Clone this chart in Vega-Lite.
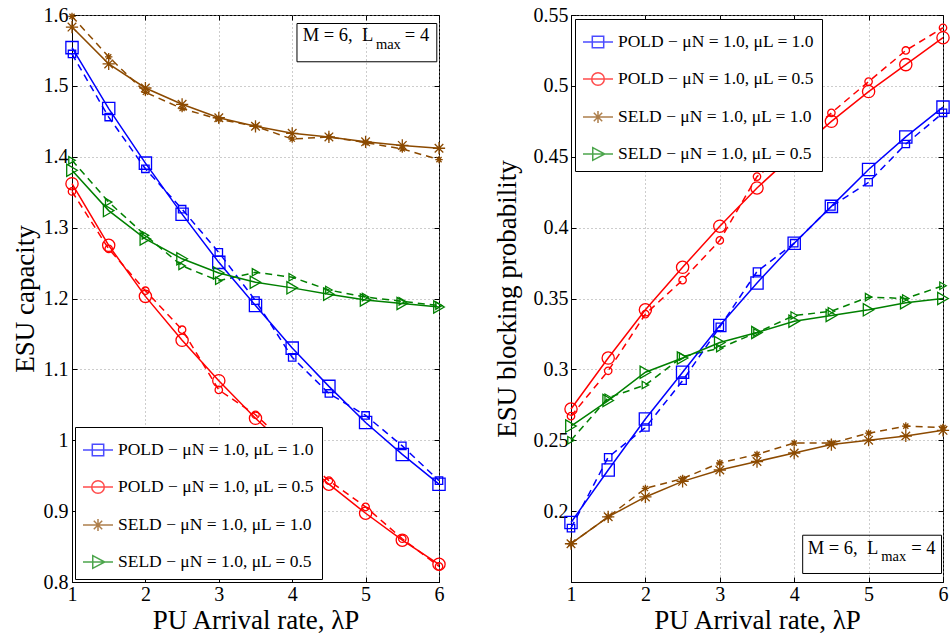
{
  "$schema": "https://vega.github.io/schema/vega-lite/v6.json",
  "padding": {"left": 10, "top": 4, "right": 0, "bottom": 0},
  "spacing": 132,
  "bounds": "flush",
  "datasets": {
    "cap": [
      {"lam":1,"series":"POL1","kind":"ana","v":1.554},{"lam":1.5,"series":"POL1","kind":"ana","v":1.468},{"lam":2,"series":"POL1","kind":"ana","v":1.391},{"lam":2.5,"series":"POL1","kind":"ana","v":1.319},{"lam":3,"series":"POL1","kind":"ana","v":1.251},{"lam":3.5,"series":"POL1","kind":"ana","v":1.190},{"lam":4,"series":"POL1","kind":"ana","v":1.130},{"lam":4.5,"series":"POL1","kind":"ana","v":1.076},{"lam":5,"series":"POL1","kind":"ana","v":1.025},{"lam":5.5,"series":"POL1","kind":"ana","v":0.980},{"lam":6,"series":"POL1","kind":"ana","v":0.938},
      {"lam":1,"series":"POL1","kind":"sim","v":1.545},{"lam":1.5,"series":"POL1","kind":"sim","v":1.456},{"lam":2,"series":"POL1","kind":"sim","v":1.383},{"lam":2.5,"series":"POL1","kind":"sim","v":1.326},{"lam":3,"series":"POL1","kind":"sim","v":1.265},{"lam":3.5,"series":"POL1","kind":"sim","v":1.197},{"lam":4,"series":"POL1","kind":"sim","v":1.117},{"lam":4.5,"series":"POL1","kind":"sim","v":1.066},{"lam":5,"series":"POL1","kind":"sim","v":1.035},{"lam":5.5,"series":"POL1","kind":"sim","v":0.992},{"lam":6,"series":"POL1","kind":"sim","v":0.943},
      {"lam":1,"series":"POL05","kind":"ana","v":1.362},{"lam":1.5,"series":"POL05","kind":"ana","v":1.275},{"lam":2,"series":"POL05","kind":"ana","v":1.203},{"lam":2.5,"series":"POL05","kind":"ana","v":1.141},{"lam":3,"series":"POL05","kind":"ana","v":1.084},{"lam":3.5,"series":"POL05","kind":"ana","v":1.031},{"lam":4,"series":"POL05","kind":"ana","v":0.983},{"lam":4.5,"series":"POL05","kind":"ana","v":0.938},{"lam":5,"series":"POL05","kind":"ana","v":0.897},{"lam":5.5,"series":"POL05","kind":"ana","v":0.859},{"lam":6,"series":"POL05","kind":"ana","v":0.825},
      {"lam":1,"series":"POL05","kind":"sim","v":1.351},{"lam":1.5,"series":"POL05","kind":"sim","v":1.270},{"lam":2,"series":"POL05","kind":"sim","v":1.211},{"lam":2.5,"series":"POL05","kind":"sim","v":1.156},{"lam":3,"series":"POL05","kind":"sim","v":1.071},{"lam":3.5,"series":"POL05","kind":"sim","v":1.036},{"lam":4,"series":"POL05","kind":"sim","v":0.988},{"lam":4.5,"series":"POL05","kind":"sim","v":0.943},{"lam":5,"series":"POL05","kind":"sim","v":0.906},{"lam":5.5,"series":"POL05","kind":"sim","v":0.861},{"lam":6,"series":"POL05","kind":"sim","v":0.822},
      {"lam":1,"series":"SEL1","kind":"ana","v":1.583},{"lam":1.5,"series":"SEL1","kind":"ana","v":1.531},{"lam":2,"series":"SEL1","kind":"ana","v":1.497},{"lam":2.5,"series":"SEL1","kind":"ana","v":1.474},{"lam":3,"series":"SEL1","kind":"ana","v":1.455},{"lam":3.5,"series":"SEL1","kind":"ana","v":1.443},{"lam":4,"series":"SEL1","kind":"ana","v":1.433},{"lam":4.5,"series":"SEL1","kind":"ana","v":1.428},{"lam":5,"series":"SEL1","kind":"ana","v":1.421},{"lam":5.5,"series":"SEL1","kind":"ana","v":1.416},{"lam":6,"series":"SEL1","kind":"ana","v":1.412},
      {"lam":1,"series":"SEL1","kind":"sim","v":1.598},{"lam":1.5,"series":"SEL1","kind":"sim","v":1.541},{"lam":2,"series":"SEL1","kind":"sim","v":1.491},{"lam":2.5,"series":"SEL1","kind":"sim","v":1.468},{"lam":3,"series":"SEL1","kind":"sim","v":1.453},{"lam":3.5,"series":"SEL1","kind":"sim","v":1.443},{"lam":4,"series":"SEL1","kind":"sim","v":1.425},{"lam":4.5,"series":"SEL1","kind":"sim","v":1.428},{"lam":5,"series":"SEL1","kind":"sim","v":1.420},{"lam":5.5,"series":"SEL1","kind":"sim","v":1.411},{"lam":6,"series":"SEL1","kind":"sim","v":1.396},
      {"lam":1,"series":"SEL05","kind":"ana","v":1.381},{"lam":1.5,"series":"SEL05","kind":"ana","v":1.324},{"lam":2,"series":"SEL05","kind":"ana","v":1.284},{"lam":2.5,"series":"SEL05","kind":"ana","v":1.256},{"lam":3,"series":"SEL05","kind":"ana","v":1.236},{"lam":3.5,"series":"SEL05","kind":"ana","v":1.223},{"lam":4,"series":"SEL05","kind":"ana","v":1.215},{"lam":4.5,"series":"SEL05","kind":"ana","v":1.206},{"lam":5,"series":"SEL05","kind":"ana","v":1.198},{"lam":5.5,"series":"SEL05","kind":"ana","v":1.193},{"lam":6,"series":"SEL05","kind":"ana","v":1.188},
      {"lam":1,"series":"SEL05","kind":"sim","v":1.395},{"lam":1.5,"series":"SEL05","kind":"sim","v":1.336},{"lam":2,"series":"SEL05","kind":"sim","v":1.289},{"lam":2.5,"series":"SEL05","kind":"sim","v":1.246},{"lam":3,"series":"SEL05","kind":"sim","v":1.225},{"lam":3.5,"series":"SEL05","kind":"sim","v":1.237},{"lam":4,"series":"SEL05","kind":"sim","v":1.230},{"lam":4.5,"series":"SEL05","kind":"sim","v":1.212},{"lam":5,"series":"SEL05","kind":"sim","v":1.202},{"lam":5.5,"series":"SEL05","kind":"sim","v":1.196},{"lam":6,"series":"SEL05","kind":"sim","v":1.190}
    ],
    "blk": [
      {"lam":1,"series":"POL1","kind":"ana","v":0.192},{"lam":1.5,"series":"POL1","kind":"ana","v":0.229},{"lam":2,"series":"POL1","kind":"ana","v":0.265},{"lam":2.5,"series":"POL1","kind":"ana","v":0.298},{"lam":3,"series":"POL1","kind":"ana","v":0.331},{"lam":3.5,"series":"POL1","kind":"ana","v":0.361},{"lam":4,"series":"POL1","kind":"ana","v":0.389},{"lam":4.5,"series":"POL1","kind":"ana","v":0.415},{"lam":5,"series":"POL1","kind":"ana","v":0.441},{"lam":5.5,"series":"POL1","kind":"ana","v":0.464},{"lam":6,"series":"POL1","kind":"ana","v":0.485},
      {"lam":1,"series":"POL1","kind":"sim","v":0.188},{"lam":1.5,"series":"POL1","kind":"sim","v":0.238},{"lam":2,"series":"POL1","kind":"sim","v":0.259},{"lam":2.5,"series":"POL1","kind":"sim","v":0.292},{"lam":3,"series":"POL1","kind":"sim","v":0.330},{"lam":3.5,"series":"POL1","kind":"sim","v":0.369},{"lam":4,"series":"POL1","kind":"sim","v":0.389},{"lam":4.5,"series":"POL1","kind":"sim","v":0.415},{"lam":5,"series":"POL1","kind":"sim","v":0.432},{"lam":5.5,"series":"POL1","kind":"sim","v":0.459},{"lam":6,"series":"POL1","kind":"sim","v":0.481},
      {"lam":1,"series":"POL05","kind":"ana","v":0.272},{"lam":1.5,"series":"POL05","kind":"ana","v":0.308},{"lam":2,"series":"POL05","kind":"ana","v":0.342},{"lam":2.5,"series":"POL05","kind":"ana","v":0.372},{"lam":3,"series":"POL05","kind":"ana","v":0.401},{"lam":3.5,"series":"POL05","kind":"ana","v":0.428},{"lam":4,"series":"POL05","kind":"ana","v":0.452},{"lam":4.5,"series":"POL05","kind":"ana","v":0.475},{"lam":5,"series":"POL05","kind":"ana","v":0.496},{"lam":5.5,"series":"POL05","kind":"ana","v":0.515},{"lam":6,"series":"POL05","kind":"ana","v":0.534},
      {"lam":1,"series":"POL05","kind":"sim","v":0.267},{"lam":1.5,"series":"POL05","kind":"sim","v":0.299},{"lam":2,"series":"POL05","kind":"sim","v":0.339},{"lam":2.5,"series":"POL05","kind":"sim","v":0.363},{"lam":3,"series":"POL05","kind":"sim","v":0.391},{"lam":3.5,"series":"POL05","kind":"sim","v":0.436},{"lam":4,"series":"POL05","kind":"sim","v":0.457},{"lam":4.5,"series":"POL05","kind":"sim","v":0.481},{"lam":5,"series":"POL05","kind":"sim","v":0.503},{"lam":5.5,"series":"POL05","kind":"sim","v":0.525},{"lam":6,"series":"POL05","kind":"sim","v":0.541},
      {"lam":1,"series":"SEL1","kind":"ana","v":0.177},{"lam":1.5,"series":"SEL1","kind":"ana","v":0.196},{"lam":2,"series":"SEL1","kind":"ana","v":0.210},{"lam":2.5,"series":"SEL1","kind":"ana","v":0.221},{"lam":3,"series":"SEL1","kind":"ana","v":0.229},{"lam":3.5,"series":"SEL1","kind":"ana","v":0.235},{"lam":4,"series":"SEL1","kind":"ana","v":0.241},{"lam":4.5,"series":"SEL1","kind":"ana","v":0.247},{"lam":5,"series":"SEL1","kind":"ana","v":0.250},{"lam":5.5,"series":"SEL1","kind":"ana","v":0.253},{"lam":6,"series":"SEL1","kind":"ana","v":0.257},
      {"lam":1,"series":"SEL1","kind":"sim","v":0.177},{"lam":1.5,"series":"SEL1","kind":"sim","v":0.196},{"lam":2,"series":"SEL1","kind":"sim","v":0.216},{"lam":2.5,"series":"SEL1","kind":"sim","v":0.223},{"lam":3,"series":"SEL1","kind":"sim","v":0.234},{"lam":3.5,"series":"SEL1","kind":"sim","v":0.240},{"lam":4,"series":"SEL1","kind":"sim","v":0.248},{"lam":4.5,"series":"SEL1","kind":"sim","v":0.248},{"lam":5,"series":"SEL1","kind":"sim","v":0.255},{"lam":5.5,"series":"SEL1","kind":"sim","v":0.260},{"lam":6,"series":"SEL1","kind":"sim","v":0.259},
      {"lam":1,"series":"SEL05","kind":"ana","v":0.260},{"lam":1.5,"series":"SEL05","kind":"ana","v":0.278},{"lam":2,"series":"SEL05","kind":"ana","v":0.298},{"lam":2.5,"series":"SEL05","kind":"ana","v":0.308},{"lam":3,"series":"SEL05","kind":"ana","v":0.319},{"lam":3.5,"series":"SEL05","kind":"ana","v":0.326},{"lam":4,"series":"SEL05","kind":"ana","v":0.334},{"lam":4.5,"series":"SEL05","kind":"ana","v":0.338},{"lam":5,"series":"SEL05","kind":"ana","v":0.342},{"lam":5.5,"series":"SEL05","kind":"ana","v":0.347},{"lam":6,"series":"SEL05","kind":"ana","v":0.350},
      {"lam":1,"series":"SEL05","kind":"sim","v":0.250},{"lam":1.5,"series":"SEL05","kind":"sim","v":0.280},{"lam":2,"series":"SEL05","kind":"sim","v":0.289},{"lam":2.5,"series":"SEL05","kind":"sim","v":0.309},{"lam":3,"series":"SEL05","kind":"sim","v":0.315},{"lam":3.5,"series":"SEL05","kind":"sim","v":0.326},{"lam":4,"series":"SEL05","kind":"sim","v":0.338},{"lam":4.5,"series":"SEL05","kind":"sim","v":0.341},{"lam":5,"series":"SEL05","kind":"sim","v":0.351},{"lam":5.5,"series":"SEL05","kind":"sim","v":0.350},{"lam":6,"series":"SEL05","kind":"sim","v":0.359}
    ]
  },
  "hconcat": [
    {
      "width": 367,
      "height": 567,
      "data": {"name": "cap"},
      "resolve": {"scale": {"color": "independent", "shape": "independent"}, "axis": {"x": "independent", "y": "independent"}},
      "layer": [
        {
          "transform": [{"filter": "datum.kind == 'sim'"}],
          "mark": {"type": "line", "strokeWidth": 1.5, "strokeDash": [7, 5]},
          "encoding": {
            "x": {"field": "lam", "type": "quantitative", "scale": {"domain": [1, 6], "nice": false, "zero": false},
                  "axis": {"orient": "bottom", "values": [1, 2, 3, 4, 5, 6], "title": "PU Arrival rate, λP", "grid": true, "tickSize": -5, "labelPadding": 7, "titlePadding": 3}},
            "y": {"field": "v", "type": "quantitative", "scale": {"domain": [0.8, 1.6], "nice": false, "zero": false},
                  "axis": {"orient": "left", "values": [0.8, 0.9, 1, 1.1, 1.2, 1.3, 1.4, 1.5, 1.6], "format": "~g", "title": "ESU capacity", "grid": true, "tickSize": -5, "labelPadding": 9, "titlePadding": 4}},
            "color": {"field": "series", "type": "nominal", "scale": {"domain": ["POL1", "POL05", "SEL1", "SEL05"], "range": ["#0000ff", "#ff0000", "#8c4a00", "#008000"]}, "legend": null}
          }
        },
        {
          "transform": [{"filter": "datum.kind == 'ana'"}],
          "mark": {"type": "line", "strokeWidth": 1.5},
          "encoding": {
            "x": {"field": "lam", "type": "quantitative", "axis": {"orient": "top", "values": [1, 2, 3, 4, 5, 6], "labels": false, "title": null, "grid": false, "domain": false, "tickSize": -5}},
            "y": {"field": "v", "type": "quantitative", "axis": {"orient": "right", "values": [0.8, 0.9, 1, 1.1, 1.2, 1.3, 1.4, 1.5, 1.6], "labels": false, "title": null, "grid": false, "domain": false, "tickSize": -5}},
            "color": {"field": "series", "type": "nominal", "scale": {"domain": ["POL1", "POL05", "SEL1", "SEL05"], "range": ["#0000ff", "#ff0000", "#8c4a00", "#008000"]}, "legend": null}
          }
        },
        {
          "transform": [{"filter": "datum.kind == 'sim'"}],
          "mark": {"type": "point", "filled": false, "strokeWidth": 1.3, "size": 55, "opacity": 1},
          "encoding": {
            "x": {"field": "lam", "type": "quantitative", "axis": null},
            "y": {"field": "v", "type": "quantitative", "axis": null},
            "color": {"field": "series", "type": "nominal", "scale": {"domain": ["POL1", "POL05", "SEL1", "SEL05"], "range": ["#0000ff", "#ff0000", "#8c4a00", "#008000"]}, "legend": null},
            "shape": {"field": "series", "type": "nominal", "scale": {"domain": ["POL1", "POL05", "SEL1", "SEL05"], "range": ["square", "circle", "M0,-1V1M-1,0H1M-0.7,-0.7L0.7,0.7M-0.7,0.7L0.7,-0.7", "triangle-right"]}, "legend": null}
          }
        },
        {
          "transform": [{"filter": "datum.kind == 'ana'"}],
          "mark": {"type": "point", "filled": false, "strokeWidth": 1.3, "size": 150, "opacity": 1},
          "encoding": {
            "x": {"field": "lam", "type": "quantitative", "axis": null},
            "y": {"field": "v", "type": "quantitative", "axis": null},
            "color": {"field": "series", "type": "nominal", "scale": {"domain": ["POL1", "POL05", "SEL1", "SEL05"], "range": ["#0000ff", "#ff0000", "#8c4a00", "#008000"]}, "legend": null},
            "shape": {"field": "series", "type": "nominal", "scale": {"domain": ["POL1", "POL05", "SEL1", "SEL05"], "range": ["square", "circle", "M0,-1V1M-1,0H1M-0.7,-0.7L0.7,0.7M-0.7,0.7L0.7,-0.7", "triangle-right"]}, "legend": null}
          }
        },
        {
          "transform": [{"filter": "false"}],
          "mark": {"type": "point", "filled": false, "strokeWidth": 1.5},
          "encoding": {
            "x": {"field": "lam", "type": "quantitative", "axis": null},
            "y": {"field": "v", "type": "quantitative", "axis": null},
            "color": {"field": "series", "type": "nominal", "scale": {"domain": ["POL1", "POL05", "SEL1", "SEL05"], "range": ["#0000ff", "#ff0000", "#8c4a00", "#008000"]},
                      "legend": {"title": null, "orient": "bottom-left", "offset": 3, "labelExpr": "datum.label == 'POL1' ? 'POLD − μN = 1.0, μL = 1.0' : datum.label == 'POL05' ? 'POLD − μN = 1.0, μL = 0.5' : datum.label == 'SEL1' ? 'SELD − μN = 1.0, μL = 1.0' : 'SELD − μN = 1.0, μL = 0.5'", "symbolSize": 900, "symbolStrokeWidth": 1.5, "labelFontSize": 17.5, "labelFont": "Liberation Serif", "labelColor": "black", "padding": 7, "rowPadding": 12, "labelOffset": 4, "strokeColor": "black", "fillColor": "white", "cornerRadius": 0, "labelLimit": 400}},
            "shape": {"field": "series", "type": "nominal", "scale": {"domain": ["POL1", "POL05", "SEL1", "SEL05"], "range": ["M-1,0H1M-0.38,-0.38H0.38V0.38H-0.38Z", "M-1,0H1M0.42,0A0.42,0.42,0,1,1,-0.42,0A0.42,0.42,0,1,1,0.42,0Z", "M-1,0H1M0,-0.4V0.4M-0.28,-0.28L0.28,0.28M-0.28,0.28L0.28,-0.28", "M-1,0H1M-0.35,-0.42L0.45,0L-0.35,0.42Z"]},
                      "legend": {"title": null, "orient": "bottom-left", "offset": 3, "labelExpr": "datum.label == 'POL1' ? 'POLD − μN = 1.0, μL = 1.0' : datum.label == 'POL05' ? 'POLD − μN = 1.0, μL = 0.5' : datum.label == 'SEL1' ? 'SELD − μN = 1.0, μL = 1.0' : 'SELD − μN = 1.0, μL = 0.5'", "symbolSize": 900, "symbolStrokeWidth": 1.5, "labelFontSize": 17.5, "labelFont": "Liberation Serif", "labelColor": "black", "padding": 7, "rowPadding": 12, "labelOffset": 4, "strokeColor": "black", "fillColor": "white", "cornerRadius": 0, "labelLimit": 400}}
          }
        },
        {
          "data": {"values": [{"box": 1}]},
          "mark": {"type": "rect", "fill": "transparent", "stroke": "black", "strokeWidth": 1},
          "encoding": {
            "x": {"datum": 4.065, "type": "quantitative", "axis": null},
            "x2": {"datum": 5.97},
            "y": {"datum": 1.588, "type": "quantitative", "axis": null},
            "y2": {"datum": 1.534}
          }
        },
        {
          "data": {"values": [{"t": "M = 6,\u00a0\u00a0L"}]},
          "mark": {"type": "text", "align": "left", "baseline": "alphabetic", "font": "Liberation Serif", "fontSize": 18.5, "color": "black"},
          "encoding": {
            "x": {"datum": 4.143, "type": "quantitative", "axis": null},
            "y": {"datum": 1.564, "type": "quantitative", "axis": null},
            "text": {"field": "t"}
          }
        },
        {
          "data": {"values": [{"t": "max"}]},
          "mark": {"type": "text", "align": "left", "baseline": "alphabetic", "font": "Liberation Serif", "fontSize": 14.5, "color": "black"},
          "encoding": {
            "x": {"datum": 5.14, "type": "quantitative", "axis": null},
            "y": {"datum": 1.552, "type": "quantitative", "axis": null},
            "text": {"field": "t"}
          }
        },
        {
          "data": {"values": [{"t": "= 4"}]},
          "mark": {"type": "text", "align": "left", "baseline": "alphabetic", "font": "Liberation Serif", "fontSize": 18.5, "color": "black"},
          "encoding": {
            "x": {"datum": 5.535, "type": "quantitative", "axis": null},
            "y": {"datum": 1.564, "type": "quantitative", "axis": null},
            "text": {"field": "t"}
          }
        }
      ]
    },
    {
      "width": 372,
      "height": 567,
      "data": {"name": "blk"},
      "resolve": {"scale": {"color": "independent", "shape": "independent"}, "axis": {"x": "independent", "y": "independent"}},
      "layer": [
        {
          "transform": [{"filter": "datum.kind == 'sim'"}],
          "mark": {"type": "line", "strokeWidth": 1.5, "strokeDash": [7, 5]},
          "encoding": {
            "x": {"field": "lam", "type": "quantitative", "scale": {"domain": [1, 6], "nice": false, "zero": false},
                  "axis": {"orient": "bottom", "values": [1, 2, 3, 4, 5, 6], "title": "PU Arrival rate, λP", "grid": true, "tickSize": -5, "labelPadding": 7, "titlePadding": 3}},
            "y": {"field": "v", "type": "quantitative", "scale": {"domain": [0.15, 0.55], "nice": false, "zero": false},
                  "axis": {"orient": "left", "values": [0.2, 0.25, 0.3, 0.35, 0.4, 0.45, 0.5, 0.55], "format": "~g", "title": "ESU blocking probability", "grid": true, "tickSize": -5, "labelPadding": 8, "titlePadding": 12}},
            "color": {"field": "series", "type": "nominal", "scale": {"domain": ["POL1", "POL05", "SEL1", "SEL05"], "range": ["#0000ff", "#ff0000", "#8c4a00", "#008000"]}, "legend": null}
          }
        },
        {
          "transform": [{"filter": "datum.kind == 'ana'"}],
          "mark": {"type": "line", "strokeWidth": 1.5},
          "encoding": {
            "x": {"field": "lam", "type": "quantitative", "axis": {"orient": "top", "values": [1, 2, 3, 4, 5, 6], "labels": false, "title": null, "grid": false, "domain": false, "tickSize": -5}},
            "y": {"field": "v", "type": "quantitative", "axis": {"orient": "right", "values": [0.2, 0.25, 0.3, 0.35, 0.4, 0.45, 0.5, 0.55], "labels": false, "title": null, "grid": false, "domain": false, "tickSize": -5}},
            "color": {"field": "series", "type": "nominal", "scale": {"domain": ["POL1", "POL05", "SEL1", "SEL05"], "range": ["#0000ff", "#ff0000", "#8c4a00", "#008000"]}, "legend": null}
          }
        },
        {
          "transform": [{"filter": "datum.kind == 'sim'"}],
          "mark": {"type": "point", "filled": false, "strokeWidth": 1.3, "size": 55, "opacity": 1},
          "encoding": {
            "x": {"field": "lam", "type": "quantitative", "axis": null},
            "y": {"field": "v", "type": "quantitative", "axis": null},
            "color": {"field": "series", "type": "nominal", "scale": {"domain": ["POL1", "POL05", "SEL1", "SEL05"], "range": ["#0000ff", "#ff0000", "#8c4a00", "#008000"]}, "legend": null},
            "shape": {"field": "series", "type": "nominal", "scale": {"domain": ["POL1", "POL05", "SEL1", "SEL05"], "range": ["square", "circle", "M0,-1V1M-1,0H1M-0.7,-0.7L0.7,0.7M-0.7,0.7L0.7,-0.7", "triangle-right"]}, "legend": null}
          }
        },
        {
          "transform": [{"filter": "datum.kind == 'ana'"}],
          "mark": {"type": "point", "filled": false, "strokeWidth": 1.3, "size": 150, "opacity": 1},
          "encoding": {
            "x": {"field": "lam", "type": "quantitative", "axis": null},
            "y": {"field": "v", "type": "quantitative", "axis": null},
            "color": {"field": "series", "type": "nominal", "scale": {"domain": ["POL1", "POL05", "SEL1", "SEL05"], "range": ["#0000ff", "#ff0000", "#8c4a00", "#008000"]}, "legend": null},
            "shape": {"field": "series", "type": "nominal", "scale": {"domain": ["POL1", "POL05", "SEL1", "SEL05"], "range": ["square", "circle", "M0,-1V1M-1,0H1M-0.7,-0.7L0.7,0.7M-0.7,0.7L0.7,-0.7", "triangle-right"]}, "legend": null}
          }
        },
        {
          "transform": [{"filter": "false"}],
          "mark": {"type": "point", "filled": false, "strokeWidth": 1.5},
          "encoding": {
            "x": {"field": "lam", "type": "quantitative", "axis": null},
            "y": {"field": "v", "type": "quantitative", "axis": null},
            "color": {"field": "series", "type": "nominal", "scale": {"domain": ["POL1", "POL05", "SEL1", "SEL05"], "range": ["#0000ff", "#ff0000", "#8c4a00", "#008000"]},
                      "legend": {"title": null, "orient": "top-left", "offset": 4, "labelExpr": "datum.label == 'POL1' ? 'POLD − μN = 1.0, μL = 1.0' : datum.label == 'POL05' ? 'POLD − μN = 1.0, μL = 0.5' : datum.label == 'SEL1' ? 'SELD − μN = 1.0, μL = 1.0' : 'SELD − μN = 1.0, μL = 0.5'", "symbolSize": 900, "symbolStrokeWidth": 1.5, "labelFontSize": 17.5, "labelFont": "Liberation Serif", "labelColor": "black", "padding": 7, "rowPadding": 12, "labelOffset": 4, "strokeColor": "black", "fillColor": "white", "cornerRadius": 0, "labelLimit": 400}},
            "shape": {"field": "series", "type": "nominal", "scale": {"domain": ["POL1", "POL05", "SEL1", "SEL05"], "range": ["M-1,0H1M-0.38,-0.38H0.38V0.38H-0.38Z", "M-1,0H1M0.42,0A0.42,0.42,0,1,1,-0.42,0A0.42,0.42,0,1,1,0.42,0Z", "M-1,0H1M0,-0.4V0.4M-0.28,-0.28L0.28,0.28M-0.28,0.28L0.28,-0.28", "M-1,0H1M-0.35,-0.42L0.45,0L-0.35,0.42Z"]},
                      "legend": {"title": null, "orient": "top-left", "offset": 4, "labelExpr": "datum.label == 'POL1' ? 'POLD − μN = 1.0, μL = 1.0' : datum.label == 'POL05' ? 'POLD − μN = 1.0, μL = 0.5' : datum.label == 'SEL1' ? 'SELD − μN = 1.0, μL = 1.0' : 'SELD − μN = 1.0, μL = 0.5'", "symbolSize": 900, "symbolStrokeWidth": 1.5, "labelFontSize": 17.5, "labelFont": "Liberation Serif", "labelColor": "black", "padding": 7, "rowPadding": 12, "labelOffset": 4, "strokeColor": "black", "fillColor": "white", "cornerRadius": 0, "labelLimit": 400}}
          }
        },
        {
          "data": {"values": [{"box": 1}]},
          "mark": {"type": "rect", "fill": "transparent", "stroke": "black", "strokeWidth": 1},
          "encoding": {
            "x": {"datum": 4.114, "type": "quantitative", "axis": null},
            "x2": {"datum": 5.98},
            "y": {"datum": 0.183, "type": "quantitative", "axis": null},
            "y2": {"datum": 0.156}
          }
        },
        {
          "data": {"values": [{"t": "M = 6,\u00a0\u00a0L"}]},
          "mark": {"type": "text", "align": "left", "baseline": "alphabetic", "font": "Liberation Serif", "fontSize": 18.5, "color": "black"},
          "encoding": {
            "x": {"datum": 4.181, "type": "quantitative", "axis": null},
            "y": {"datum": 0.170, "type": "quantitative", "axis": null},
            "text": {"field": "t"}
          }
        },
        {
          "data": {"values": [{"t": "max"}]},
          "mark": {"type": "text", "align": "left", "baseline": "alphabetic", "font": "Liberation Serif", "fontSize": 14.5, "color": "black"},
          "encoding": {
            "x": {"datum": 5.17, "type": "quantitative", "axis": null},
            "y": {"datum": 0.1645, "type": "quantitative", "axis": null},
            "text": {"field": "t"}
          }
        },
        {
          "data": {"values": [{"t": "= 4"}]},
          "mark": {"type": "text", "align": "left", "baseline": "alphabetic", "font": "Liberation Serif", "fontSize": 18.5, "color": "black"},
          "encoding": {
            "x": {"datum": 5.573, "type": "quantitative", "axis": null},
            "y": {"datum": 0.170, "type": "quantitative", "axis": null},
            "text": {"field": "t"}
          }
        }
      ]
    }
  ],
  "config": {
    "font": "Liberation Serif",
    "background": "white",
    "view": {"stroke": "black", "strokeWidth": 1},
    "axis": {
      "labelFont": "Liberation Serif", "labelFontSize": 20, "labelColor": "black",
      "titleFont": "Liberation Serif", "titleFontSize": 27, "titleFontWeight": "normal", "titleColor": "black",
      "domainColor": "black", "domainWidth": 1, "tickColor": "black", "tickWidth": 1,
      "gridColor": "#9a9a9a", "gridDash": [1, 3], "gridWidth": 1, "labelOverlap": false, "labelFlush": false
    }
  }
}
